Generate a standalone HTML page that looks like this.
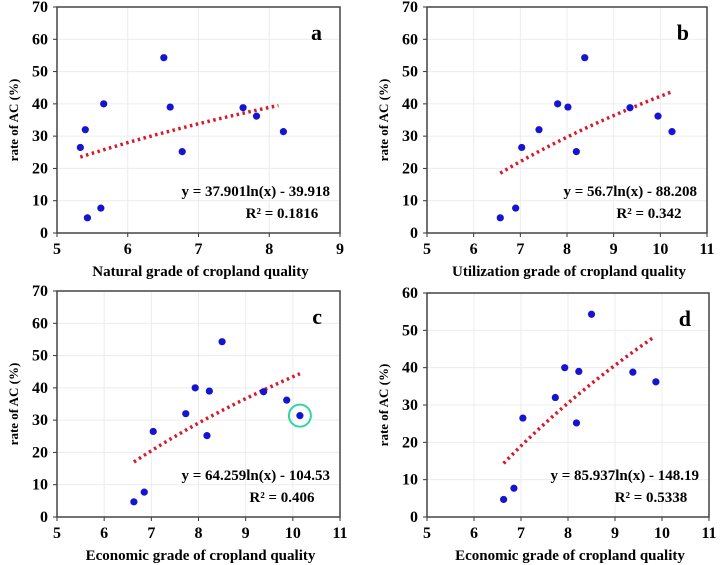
<!DOCTYPE html><html><head><style>body{margin:0;background:#fff}svg{display:block}text{font-family:"Liberation Serif",serif;font-weight:bold}</style></head><body>
<svg id="s" width="720" height="565" xmlns="http://www.w3.org/2000/svg"></svg>
<script>
const S=document.getElementById('s');let h='';
function panel(o){const {x0,x1,xmin,xmax,y0,y1,ymax,pts,fit,fx,lab,xl,eq,r2}=o;
const X=v=>x0+(v-xmin)/(xmax-xmin)*(x1-x0),Y=v=>y0-(v/ymax)*(y0-y1);
for(let v=xmin;v<=xmax;v++){h+=`<line x1="${X(v)}" x2="${X(v)}" y1="${y1}" y2="${y0}" stroke="#ececec"/>`;h+=`<text x="${X(v)}" y="${y0+21}" font-size="16" text-anchor="middle">${v}</text>`;h+=`<line x1="${X(v)}" x2="${X(v)}" y1="${y0}" y2="${y0+4}" stroke="#333"/>`}
for(let v=0;v<=ymax;v+=10){h+=`<line x1="${x0}" x2="${x1}" y1="${Y(v)}" y2="${Y(v)}" stroke="#ececec"/>`;h+=`<text x="${x0-9}" y="${Y(v)+5}" font-size="16" text-anchor="end">${v}</text>`;h+=`<line x1="${x0-4}" x2="${x0}" y1="${Y(v)}" y2="${Y(v)}" stroke="#333"/>`}
h+=`<rect x="${x0}" y="${y1}" width="${x1-x0}" height="${y0-y1}" fill="none" stroke="#444" stroke-width="1.5"/>`;
let d='';for(let i=0;i<=40;i++){const v=fx[0]+(fx[1]-fx[0])*i/40;d+=(i?'L':'M')+X(v).toFixed(1)+' '+Y(fit[0]*Math.log(v)+fit[1]).toFixed(1)}
h+=`<path d="${d}" fill="none" stroke="#d9182a" stroke-width="3.5" stroke-dasharray="2.5 3.5"/>`;
pts.forEach(p=>h+=`<circle cx="${X(p[0])}" cy="${Y(p[1])}" r="3.6" fill="#1515d0"/>`);
if(o.circ)h+=`<circle cx="${X(o.circ[0])}" cy="${Y(o.circ[1])}" r="11" fill="none" stroke="#2fd6a0" stroke-width="2"/>`;
h+=`<text x="${x1-18}" y="${y1+33}" font-size="22" text-anchor="end">${lab}</text>`;
h+=`<text x="${x1-10}" y="${y0-37}" font-size="15" text-anchor="end">${eq}</text>`;
h+=`<text x="${x1-58}" y="${y0-15}" font-size="15" text-anchor="middle">${r2}</text>`;
h+=`<text x="${(x0+x1)/2+2}" y="${y0+43}" font-size="15" text-anchor="middle">${xl}</text>`;
const cy=(y0+y1)/2;h+=`<text transform="translate(${x0-39},${cy}) rotate(-90)" font-size="13" text-anchor="middle">rate of AC (%)</text>`;}
const A=[[5.33,26.5],[5.4,32],[5.43,4.7],[5.62,7.7],[5.66,40],[6.51,54.3],[6.6,39],[6.77,25.2],[7.63,38.8],[7.82,36.2],[8.2,31.4]];
const B=[[6.57,4.7],[6.9,7.7],[7.03,26.5],[7.4,32],[7.8,40],[8.02,39],[8.2,25.2],[8.38,54.3],[9.35,38.8],[9.95,36.2],[10.25,31.4]];
const D=[[6.63,4.7],[6.85,7.7],[7.04,26.5],[7.73,32],[7.93,40],[8.18,25.2],[8.23,39],[8.5,54.3],[9.38,38.8],[9.87,36.2]];
panel({x0:57,x1:340,xmin:5,xmax:9,y0:233,y1:7,ymax:70,pts:A,fit:[37.901,-39.918],fx:[5.33,8.13],lab:'a',xl:'Natural grade of cropland quality',eq:'y = 37.901ln(x) - 39.918',r2:'R² = 0.1816'});
panel({x0:427,x1:707,xmin:5,xmax:11,y0:233,y1:7,ymax:70,pts:B,fit:[56.7,-88.208],fx:[6.57,10.25],lab:'b',xl:'Utilization grade of cropland quality',eq:'y = 56.7ln(x) - 88.208',r2:'R² = 0.342'});
panel({x0:57,x1:340,xmin:5,xmax:11,y0:517,y1:291,ymax:70,pts:D.concat([[10.15,31.4]]),circ:[10.15,31.4],fit:[64.259,-104.53],fx:[6.63,10.15],lab:'c',xl:'Economic grade of cropland quality',eq:'y = 64.259ln(x) - 104.53',r2:'R² = 0.406'});
panel({x0:427,x1:709,xmin:5,xmax:11,y0:517,y1:293,ymax:60,pts:D,fit:[85.937,-148.19],fx:[6.63,9.8],lab:'d',xl:'Economic grade of cropland quality',eq:'y = 85.937ln(x) - 148.19',r2:'R² = 0.5338'});
S.innerHTML=h;
</script></body></html>
